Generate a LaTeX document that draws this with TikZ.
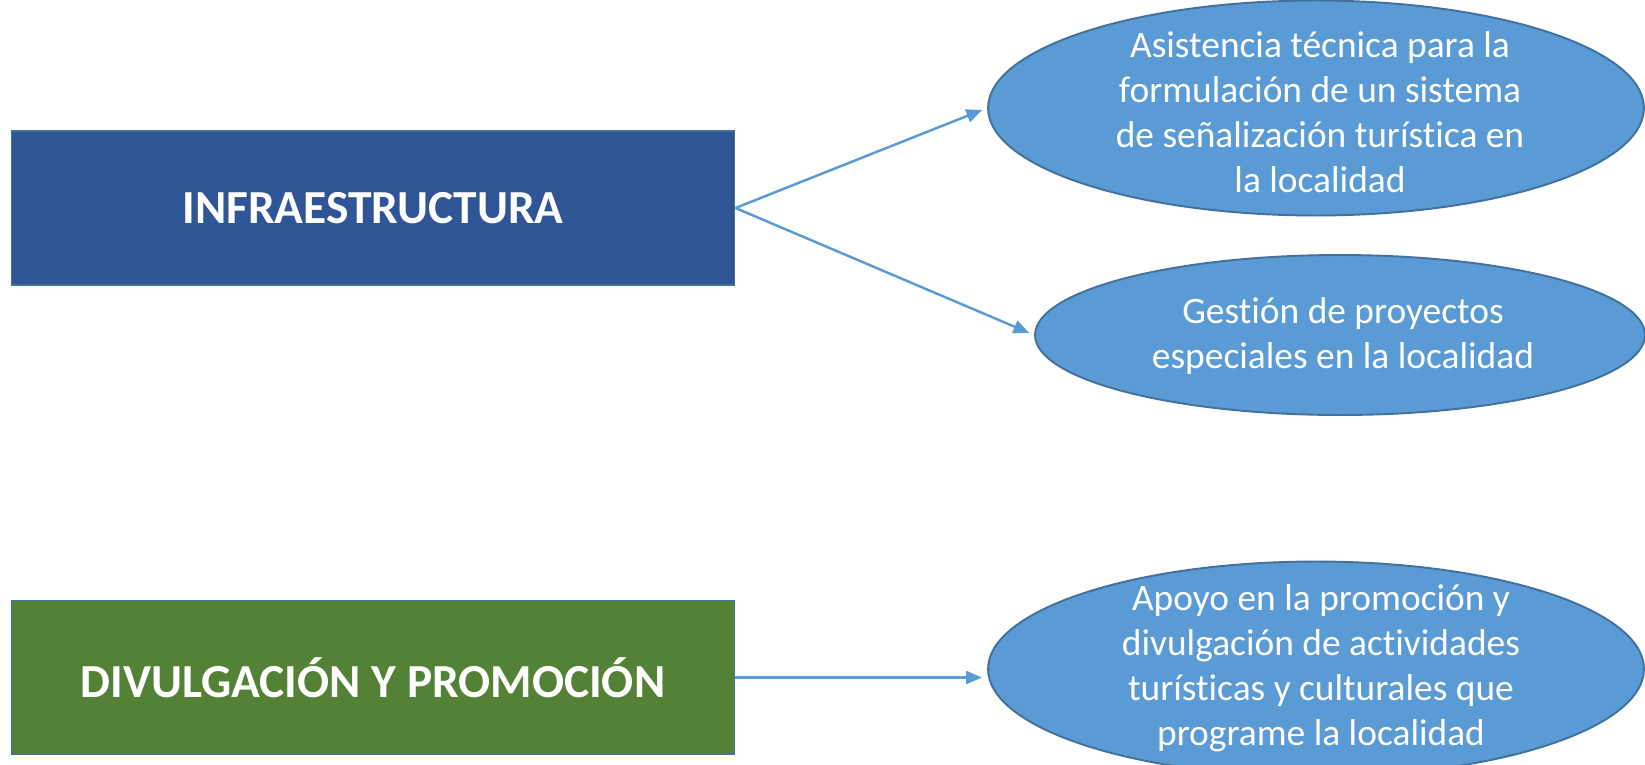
\documentclass[tikz,border=0pt]{standalone}
\usepackage{fontspec}
\setmainfont{Carlito}[Ligatures={NoCommon,NoRequired,NoContextual}]
\usetikzlibrary{shapes.geometric,arrows.meta}

\definecolor{boxblue}{HTML}{2F5597}
\definecolor{boxgreen}{HTML}{538135}
\definecolor{bubblefill}{HTML}{5B9BD5}
\definecolor{bubbleline}{HTML}{41719C}

\begin{document}
\begin{tikzpicture}[x=0.02cm,y=-0.02cm,
   area/.style={draw=bubbleline,line width=0.9pt,minimum width=14.47cm,minimum height=3.08cm,
      text=white,font=\bfseries\fontsize{27}{32}\selectfont},
   bubble/.style={ellipse,draw=bubbleline,fill=bubblefill,line width=1.1pt,inner sep=0pt},
   bubbletext/.style={text=white,align=center,font=\fontsize{21.3}{25.6}\selectfont},
   link/.style={draw=bubblefill,line width=1.4pt,shorten >=3pt,-{Triangle[length=9pt,width=7.5pt]}}]

\useasboundingbox (0,0) rectangle (1645,764);

\node[area,fill=boxblue] (infra) at (373,208) {INFRAESTRUCTURA};
\node[area,fill=boxgreen] (divul) at (373,677.5) {DIVULGACIÓN Y PROMOCIÓN};

\node[bubble,minimum width=13.12cm,minimum height=4.3cm] (senal) at (1316,108) {};
\node[bubbletext] (senalT) at (1320,112) {Asistencia técnica para la\\formulación de un sistema\\de señalización turística en\\la localidad};

\node[bubble,minimum width=12.2cm,minimum height=3.2cm] (proy) at (1340,335) {};
\node[bubbletext] (proyT) at (1343,336) {Gestión de proyectos\\especiales en la localidad};

\node[bubble,minimum width=13.12cm,minimum height=4.3cm] (apoyo) at (1316,669) {};
\node[bubbletext] (apoyoT) at (1321,668) {Apoyo en la promoción y\\divulgación de actividades\\turísticas y culturales que\\programe la localidad};

\draw[link] (infra.east) -- (senal.west);
\draw[link] (infra.east) -- (proy.west);
\draw[link] (divul.east) -- (divul.east -| apoyo.west);

\end{tikzpicture}
\end{document}
